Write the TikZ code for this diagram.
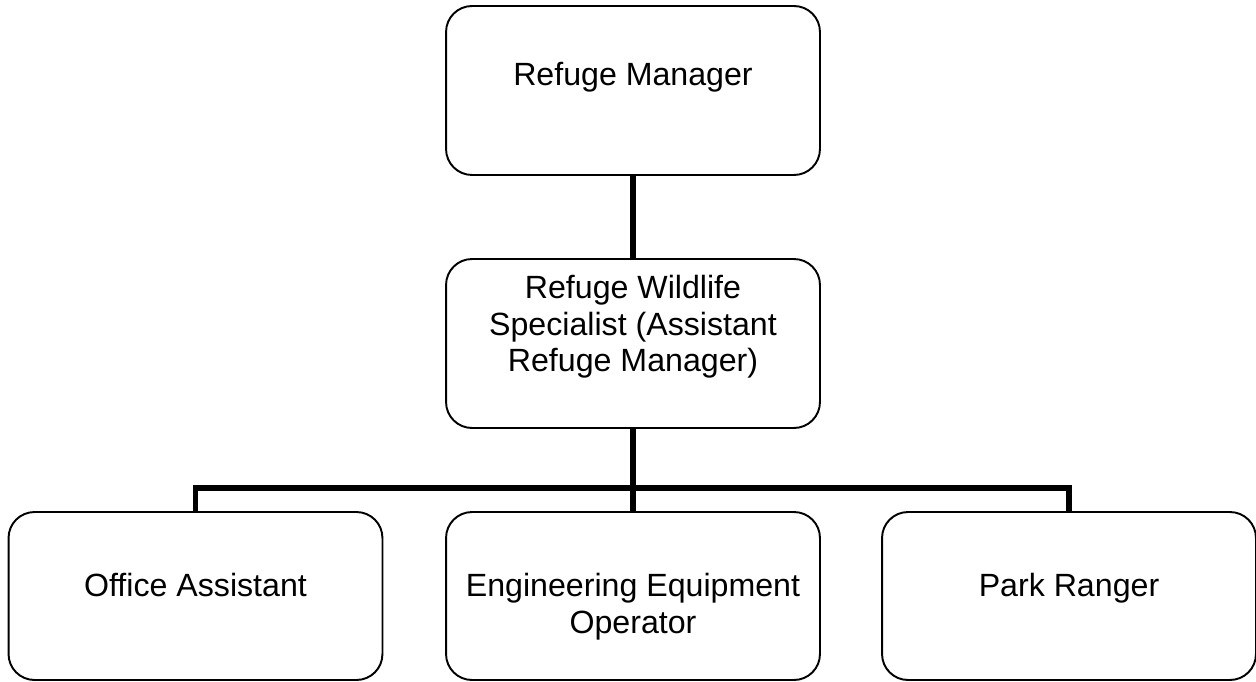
\documentclass[tikz,border=0pt]{standalone}
\usepackage{fontspec}
\setmainfont{Liberation Sans}

\begin{document}
\begin{tikzpicture}[x=0.02cm, y=-0.02cm,
  unit/.style={draw, line width=1.1pt, rounded corners=0.52cm, minimum width=7.48cm,
    inner sep=0pt, align=center, font=\fontsize{18.3}{21}\selectfont},
  link/.style={line width=3.4pt, line join=miter}]
\fill[white] (0,0) rectangle (1256,682);
\useasboundingbox (0,0) rectangle (1256,682);

\node[unit, text height=1.6cm, text depth=1.78cm] (mgr) at (633,90.5) {Refuge Manager};
\node[unit, text height=2.26cm, text depth=1.12cm] (asst) at (633,343.5)
  {Refuge Wildlife\\Specialist (Assistant\\Refuge Manager)};
\node[unit, text height=1.68cm, text depth=1.68cm] (office) at (195.5,596) {Office Assistant};
\node[unit, text height=2.42cm, text depth=0.94cm] (engineer) at (633,596)
  {Engineering Equipment\\Operator};
\node[unit, text height=1.68cm, text depth=1.68cm] (ranger) at (1069,596) {Park Ranger};

\coordinate (bus) at (633,488);
\draw[link] (mgr) -- (asst);
\draw[link] (asst) -- (bus);
\draw[link] (office.north) |- (bus) -| (ranger.north);
\draw[link] (bus) -- (engineer.north);

\end{tikzpicture}
\end{document}
